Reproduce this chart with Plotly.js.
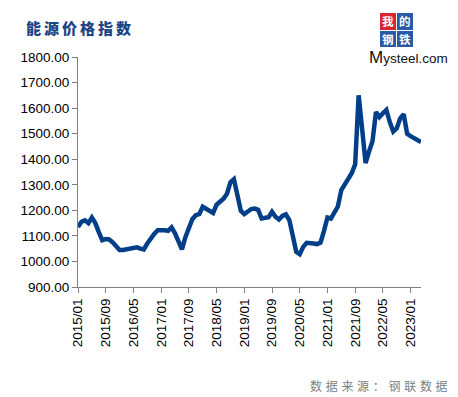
<!DOCTYPE html>
<html>
<head>
<meta charset="utf-8">
<script src="https://cdn.plot.ly/plotly-3.0.1.min.js"></script>
<style>
html,body{margin:0;padding:0;background:#fff;}
#chart{width:458px;height:397px;}
</style>
</head>
<body>
<div id="chart"></div>
<script>
// Energy price index, monthly, 2015/01 .. 2023/04
const startYear = 2015;
const monthCount = 100;
const months = [];
for (let i = 0; i < monthCount; i++) {
  const y = startYear + Math.floor(i / 12);
  const m = (i % 12) + 1;
  months.push(y + '/' + (m < 10 ? '0' + m : m));
}
const indexValues = [
  1135, 1155, 1161, 1150, 1172, 1150, 1115, 1083, 1088, 1086,
  1075, 1060, 1045, 1045, 1047, 1048, 1050, 1055, 1050, 1047,
  1070, 1090, 1108, 1122, 1124, 1122, 1120, 1133, 1110, 1075,
  1047, 1095, 1135, 1165, 1181, 1185, 1214, 1205, 1195, 1190,
  1222, 1235, 1245, 1265, 1310, 1322, 1250, 1198, 1185, 1194,
  1205, 1207, 1202, 1168, 1172, 1173, 1194, 1175, 1164, 1178,
  1184, 1162, 1100, 1037, 1028, 1057, 1073, 1073, 1070, 1068,
  1074, 1120, 1172, 1168, 1195, 1215, 1279, 1300, 1320, 1345,
  1380, 1650, 1520, 1385, 1430, 1470, 1585, 1565, 1580, 1593,
  1545, 1508, 1521, 1560, 1576, 1500, 1490, 1483, 1475, 1467
];
const tickLabels = ['2015/01','2015/09','2016/05','2017/01','2017/09','2018/05',
  '2019/01','2019/09','2020/05','2021/01','2021/09','2022/05','2023/01'];
const yTicks = [900, 1000, 1100, 1200, 1300, 1400, 1500, 1600, 1700, 1800];
const yTickText = ['900.00','1000.00','1100.00','1200.00','1300.00','1400.00','1500.00','1600.00','1700.00','1800.00'];

const W = 458, H = 397;
const L = 78, R = 37, T = 57, B = 110;
const pw = W - L - R, ph = H - T - B;
const px = v => (v - L) / pw;
const py = v => (H - B - v) / ph;

const trace = {
  x: months,
  y: indexValues,
  type: 'scatter',
  mode: 'lines',
  line: {color: '#023f88', width: 4.5},
  hoverinfo: 'x+y'
};

const logoBoxes = [
  {x0: 380, x1: 396, y0: 13, y1: 30, c: '#d8262e', t: '我'},
  {x0: 397, x1: 413, y0: 13, y1: 30, c: '#2a5aa6', t: '的'},
  {x0: 380, x1: 396, y0: 31, y1: 47, c: '#2a5aa6', t: '钢'},
  {x0: 397, x1: 413, y0: 31, y1: 47, c: '#2a5aa6', t: '铁'}
];
const shapes = logoBoxes.map(b => ({
  type: 'rect', xref: 'paper', yref: 'paper',
  x0: px(b.x0), x1: px(b.x1), y0: py(b.y1), y1: py(b.y0),
  fillcolor: b.c, line: {width: 0}
}));
const annotations = logoBoxes.map(b => ({
  xref: 'paper', yref: 'paper', x: px((b.x0 + b.x1) / 2), y: py((b.y0 + b.y1) / 2),
  xanchor: 'center', yanchor: 'middle', showarrow: false, text: b.t,
  font: {family: 'Noto Sans CJK SC', size: 11.5, color: '#ffffff', weight: 'bold'}
}));
annotations.push({
  xref: 'paper', yref: 'paper', x: px(367), y: py(57), xanchor: 'left', yanchor: 'middle',
  showarrow: false, text: '<span style="font-size:17px">M</span>ysteel.com',
  font: {family: 'Liberation Sans', size: 13.5, color: '#111111'}
});
annotations.push({
  xref: 'paper', yref: 'paper', x: px(24), y: py(27), xanchor: 'left', yanchor: 'middle',
  showarrow: false,
  text: '<span style="letter-spacing:3px">能源价格指数</span>',
  font: {family: 'Noto Sans CJK SC', size: 15, color: '#1c4587', weight: 900}
});
annotations.push({
  xref: 'paper', yref: 'paper', x: px(453), y: py(385), xanchor: 'right', yanchor: 'middle',
  showarrow: false,
  text: '<span style="letter-spacing:3.7px">数据来源：钢联数据</span>',
  font: {family: 'Noto Sans CJK SC', size: 12, color: '#808080'}
});

const layout = {
  width: W, height: H,
  margin: {l: L, r: R, t: T, b: B, pad: 0},
  paper_bgcolor: '#ffffff', plot_bgcolor: '#ffffff',
  showlegend: false,
  font: {family: 'Liberation Sans, Arial, sans-serif', color: '#000000'},
  xaxis: {
    type: 'category',
    range: [0, monthCount - 1],
    tickmode: 'array', tickvals: tickLabels, ticktext: tickLabels,
    tickangle: -90,
    ticks: 'outside', ticklen: 5, tickcolor: '#808080', tickwidth: 1,
    showline: true, linecolor: '#808080', linewidth: 1,
    showgrid: false, zeroline: false,
    tickfont: {size: 13.5, color: '#000000'}
  },
  yaxis: {
    range: [900, 1800],
    tickmode: 'array', tickvals: yTicks, ticktext: yTickText,
    ticks: 'outside', ticklen: 5, tickcolor: '#808080', tickwidth: 1,
    showline: true, linecolor: '#808080', linewidth: 1,
    showgrid: false, zeroline: false,
    tickfont: {size: 13.5, color: '#000000'}
  },
  shapes: shapes,
  annotations: annotations
};

Plotly.newPlot('chart', [trace], layout, {displayModeBar: false, staticPlot: true});
</script>
</body>
</html>
